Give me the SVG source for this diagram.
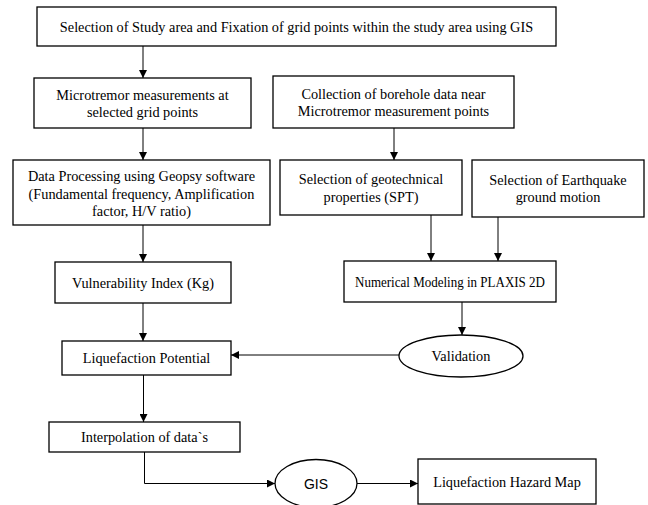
<svg xmlns="http://www.w3.org/2000/svg" width="648" height="505" viewBox="0 0 648 505">
<style>
.box{fill:#fff;stroke:#000;stroke-width:1.3}
.t{font-family:"Liberation Serif","Times New Roman",serif;font-size:14.3px;fill:#000;text-anchor:middle}
.s{font-family:"Liberation Sans",Arial,sans-serif;font-size:14px;fill:#000;text-anchor:middle}
.c{fill:none;stroke:#000;stroke-width:1}
</style>
<defs>
<marker id="ah" markerWidth="8" markerHeight="8" refX="8" refY="4" orient="auto" markerUnits="userSpaceOnUse">
<path d="M0,0 L8,4 L0,8 Z" fill="#000"/>
</marker>
</defs>
<rect width="648" height="505" fill="#fff"/>
<g id="connectors">
<path class="c" d="M143,46 V78" marker-end="url(#ah)"/>
<path class="c" d="M143,128 V160" marker-end="url(#ah)"/>
<path class="c" d="M394,128 V160" marker-end="url(#ah)"/>
<path class="c" d="M143,225 V262" marker-end="url(#ah)"/>
<path class="c" d="M431,215 V261" marker-end="url(#ah)"/>
<path class="c" d="M498,217 V261" marker-end="url(#ah)"/>
<path class="c" d="M143,303 V341" marker-end="url(#ah)"/>
<path class="c" d="M462,302 V335" marker-end="url(#ah)"/>
<path class="c" d="M399,355 H231" marker-end="url(#ah)"/>
<path class="c" d="M143.5,375 V422" marker-end="url(#ah)"/>
<path class="c" d="M144.5,452 V483.5 H275" marker-end="url(#ah)"/>
<path class="c" d="M357,483.5 H418" marker-end="url(#ah)"/>
</g>
<g id="n1">
<rect class="box" x="37" y="7" width="519" height="39"/>
<text class="t" x="296.5" y="31.5">Selection of Study area and Fixation of grid points within the study area using GIS</text>
</g>
<g id="n2">
<rect class="box" x="34" y="78" width="217" height="50"/>
<text class="t" x="142.5" y="99.5">Microtremor measurements at</text>
<text class="t" x="142.5" y="116.5">selected grid points</text>
</g>
<g id="n3">
<rect class="box" x="273" y="76" width="241" height="52"/>
<text class="t" x="393.5" y="98.5">Collection of borehole data near</text>
<text class="t" x="393.5" y="116">Microtremor measurement points</text>
</g>
<g id="n4">
<rect class="box" x="13" y="160" width="257" height="65"/>
<text class="t" x="141.5" y="181">Data Processing using Geopsy software</text>
<text class="t" x="141.5" y="198.5">(Fundamental frequency, Amplification</text>
<text class="t" x="141.5" y="216">factor, H/V ratio)</text>
</g>
<g id="n5">
<rect class="box" x="280" y="160" width="182" height="55"/>
<text class="t" x="371" y="183.5">Selection of geotechnical</text>
<text class="t" x="371" y="201.5">properties (SPT)</text>
</g>
<g id="n6">
<rect class="box" x="472" y="160" width="172" height="57"/>
<text class="t" x="558" y="185">Selection of Earthquake</text>
<text class="t" x="558" y="202">ground motion</text>
</g>
<g id="n7">
<rect class="box" x="55" y="262" width="176" height="41"/>
<text class="t" x="143" y="288">Vulnerability Index (Kg)</text>
</g>
<g id="n8">
<rect class="box" x="344" y="261" width="212" height="41"/>
<text class="t" x="450" y="287" textLength="190" lengthAdjust="spacingAndGlyphs">Numerical Modeling in PLAXIS 2D</text>
</g>
<g id="n9">
<rect class="box" x="62" y="341" width="169" height="34"/>
<text class="t" x="146.5" y="363">Liquefaction Potential</text>
</g>
<g id="n10">
<ellipse class="box" cx="461" cy="356" rx="62" ry="21"/>
<text class="t" x="461" y="361">Validation</text>
</g>
<g id="n11">
<rect class="box" x="49" y="422" width="191" height="30"/>
<text class="t" x="144.5" y="442">Interpolation of data`s</text>
</g>
<g id="n12">
<ellipse class="box" cx="316" cy="483.5" rx="41" ry="24"/>
<text class="s" x="316" y="488.5">GIS</text>
</g>
<g id="n13">
<rect class="box" x="418" y="459" width="178" height="45"/>
<text class="t" x="507" y="487">Liquefaction Hazard Map</text>
</g>
</svg>
